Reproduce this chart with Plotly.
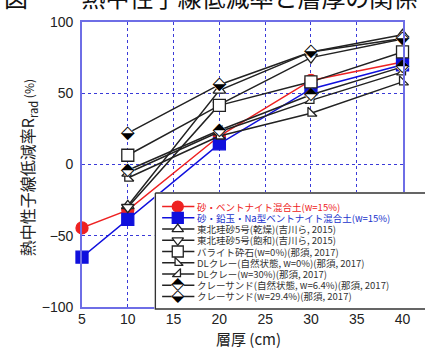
import plotly.graph_objects as go

# ---------------- data ----------------
thickness_ab = [5, 10, 20, 30, 40]
thickness = [10, 20, 30, 40]

sand_bentonite = [-44.5, -32, 20, 59, 72]
sand_lead_bentonite = [-65, -38.5, 14.5, 53, 70]
tohoku_dry = [-29, 52, 79, 91]
tohoku_sat = [-30, 42, 75, 88]
barite = [6.5, 41.5, 58, 79]
dl_natural = [-9.5, 20, 36, 58]
dl_w30 = [-6, 23, 45, 65]
claysand_natural = [-4, 24, 49, 68.5]
claysand_w294 = [22, 56, 79, 88.5]

labels = [
    "砂・ベントナイト混合土(w=15%)",
    "砂・鉛玉・Na型ベントナイト混合土(w=15%)",
    "東北珪砂5号(乾燥)(吉川ら, 2015)",
    "東北珪砂5号(飽和)(吉川ら, 2015)",
    "バライト砕石(w=0%)(那須, 2017)",
    "DLクレー(自然状態, w=0%)(那須, 2017)",
    "DLクレー(w=30%)(那須, 2017)",
    "クレーサンド(自然状態, w=6.4%)(那須, 2017)",
    "クレーサンド(w=29.4%)(那須, 2017)",
]
x_ticks = [5, 10, 15, 20, 25, 30, 35, 40]
y_ticks = [-100, -50, 0, 50, 100]

RED = "#ee2222"
BLUE = "#1010dd"
BLK = "#222222"

series = [
    dict(x=thickness_ab, y=sand_bentonite, color=RED, sym="circle", fill=RED, size=12),
    dict(x=thickness_ab, y=sand_lead_bentonite, color=BLUE, sym="square", fill=BLUE, size=12),
    dict(x=thickness, y=tohoku_dry, color=BLK, sym="triangle-up", fill="white", size=11),
    dict(x=thickness, y=tohoku_sat, color=BLK, sym="triangle-down", fill="white", size=11),
    dict(x=thickness, y=barite, color=BLK, sym="square", fill="white", size=12),
    dict(x=thickness, y=dl_natural, color=BLK, sym="triangle-sw", fill="white", size=10),
    dict(x=thickness, y=dl_w30, color=BLK, sym="triangle-se", fill="white", size=10),
    dict(x=thickness, y=claysand_natural, color=BLK, sym="diamond", fill="white", size=11, glyph="\u2B18"),
    dict(x=thickness, y=claysand_w294, color=BLK, sym="diamond", fill="white", size=11, glyph="\u2B19"),
]
text_colors = [RED, "#2233cc"] + ["#333333"] * 7


def add_marks(fig, s, xs, ys, xa, ya, shrink=0):
    """Markers for one series; half-filled diamonds use a glyph over a white diamond."""
    if "glyph" in s:
        fig.add_trace(go.Scatter(
            x=xs, y=ys, mode="markers", cliponaxis=False,
            marker=dict(symbol="diamond", size=s["size"] - shrink, color="white",
                        line=dict(width=0)),
            hoverinfo="skip", showlegend=False, xaxis=xa, yaxis=ya))
        fig.add_trace(go.Scatter(
            x=xs, y=ys, mode="text", text=[s["glyph"]] * len(xs), cliponaxis=False,
            textposition="middle center",
            textfont=dict(family="DejaVu Sans", size=18 - shrink, color="black"),
            hoverinfo="skip", showlegend=False, xaxis=xa, yaxis=ya))
    else:
        fig.add_trace(go.Scatter(
            x=xs, y=ys, mode="markers", cliponaxis=False,
            marker=dict(symbol=s["sym"], size=s["size"] - shrink, color=s["fill"],
                        line=dict(color=s["color"], width=1.3)),
            hoverinfo="skip", showlegend=False, xaxis=xa, yaxis=ya))


fig = go.Figure()

for s, lab in zip(series, labels):
    fig.add_trace(go.Scatter(
        x=s["x"], y=s["y"], mode="lines", name=lab,
        line=dict(color=s["color"], width=1.5), cliponaxis=False,
        showlegend=False, xaxis="x", yaxis="y"))
    add_marks(fig, s, s["x"], s["y"], "x", "y")

# ---------------- hand-drawn legend (inset axes, pixel-like units) ----------------
L, R, T, B = 156, 433, 192, 311
fig.add_trace(go.Scatter(
    x=[157, 445, 445, 157, 157], y=[193, 193, 310, 310, 193], mode="lines",
    fill="toself", fillcolor="white", line=dict(color="#333333", width=1.5),
    hoverinfo="skip", showlegend=False, xaxis="x2", yaxis="y2"))
row0, pitch = 206.7, 11.33
for i, (s, lab) in enumerate(zip(series, labels)):
    yy = row0 + i * pitch
    fig.add_trace(go.Scatter(
        x=[164, 197], y=[yy, yy], mode="lines",
        line=dict(color=s["color"], width=1.5), hoverinfo="skip",
        showlegend=False, xaxis="x2", yaxis="y2"))
    add_marks(fig, s, [180], [yy], "x2", "y2", shrink=1)
    fig.add_annotation(
        x=198, y=yy, xref="x2", yref="y2", text=lab, showarrow=False,
        xanchor="left", yanchor="middle",
        font=dict(family="Noto Sans CJK JP", size=9.5, color=text_colors[i]))

W, H = 433, 352
ml, mr, mt, mb = 82, 0, 22, 42
pw, ph = W - ml - mr, H - mt - mb


def px2paper_x(px):
    return (px - ml) / pw


def py2paper_y(py):
    return 1 - (py - mt) / ph


AXC = "#6e6ee6"
GRIDC = "#3a3ad8"
fig.update_layout(
    width=W, height=H,
    margin=dict(l=ml, r=mr, t=mt, b=mb),
    paper_bgcolor="white", plot_bgcolor="white",
    showlegend=False,
    xaxis=dict(domain=[0, px2paper_x(410)], range=[5, 40], tickvals=x_ticks,
               showgrid=True, gridcolor=GRIDC, griddash="dot", gridwidth=1,
               showline=True, linecolor=AXC, linewidth=1.6, mirror=True,
               zeroline=False, ticks="", ticklabelstandoff=-2,
               tickfont=dict(family="Arial, Liberation Sans", size=14, color="#222")),
    yaxis=dict(domain=[py2paper_y(307), 1], range=[-100, 100], tickvals=y_ticks,
               showgrid=True, gridcolor=GRIDC, griddash="dot", gridwidth=1,
               showline=True, linecolor=AXC, linewidth=1.6, mirror=True,
               zeroline=False, ticks="", ticklabelstandoff=4,
               tickfont=dict(family="Arial, Liberation Sans", size=14, color="#222")),
    xaxis2=dict(domain=[px2paper_x(156), 1], range=[L, R], visible=False,
                fixedrange=True),
    yaxis2=dict(domain=[0, py2paper_y(192)], range=[B, T], visible=False,
                fixedrange=True),
)

# axis titles
fig.add_annotation(
    x=px2paper_x(26), y=py2paper_y(168), xref="paper", yref="paper",
    text="熱中性子線低減率R<sub>rad</sub><span style='font-size:12px'> (%)</span>",
    textangle=-90, showarrow=False, xanchor="center", yanchor="middle",
    font=dict(family="Noto Sans CJK JP", size=16, color="#222"))
fig.add_annotation(
    x=px2paper_x(252), y=py2paper_y(338), xref="paper", yref="paper",
    text="層厚 (cm)", showarrow=False, xanchor="center", yanchor="middle",
    font=dict(family="Noto Sans CJK JP", size=15, color="#222"))
# clipped figure caption at top
fig.add_annotation(
    x=px2paper_x(0), y=py2paper_y(-3), xref="paper", yref="paper",
    text="図－　 熱中性子線低減率と層厚の関係", showarrow=False,
    xanchor="left", yanchor="middle",
    font=dict(family="Noto Sans CJK JP", size=24, color="#111"))

fig.write_html("out.html", config={"displayModeBar": False},
               post_script="document.body.style.margin='0';")
